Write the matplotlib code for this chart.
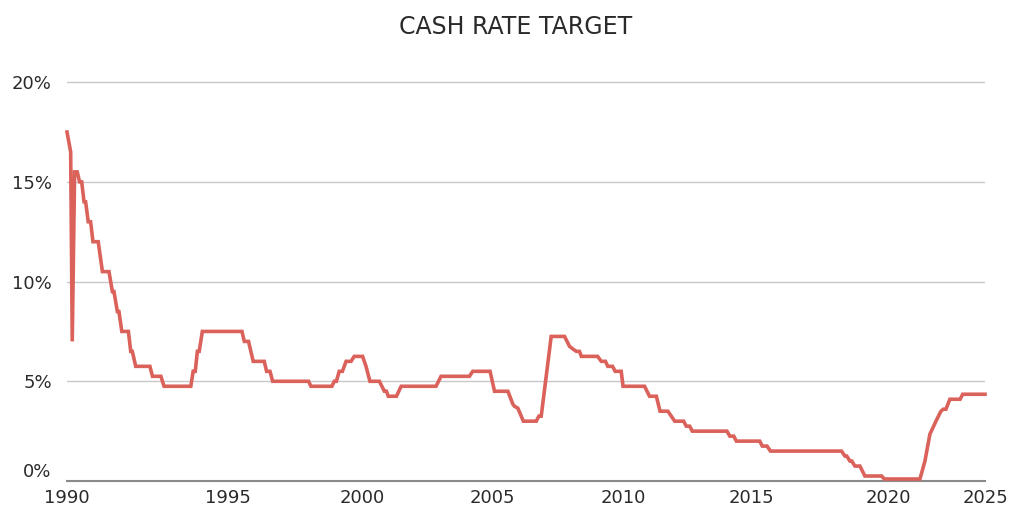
import matplotlib
matplotlib.use("Agg")
import matplotlib.pyplot as plt

# ---------------------------
# Data (decimal year, cash rate %)
# ---------------------------
years = [
    1990.00, 1990.14, 1990.20, 1990.29, 1990.39, 1990.48, 1990.56, 1990.65,
    1990.71, 1990.81, 1990.90, 1990.99, 1991.19, 1991.35, 1991.60, 1991.73,
    1991.79, 1991.92, 1991.98, 1992.09, 1992.34, 1992.43, 1992.49, 1992.62,
    1993.16, 1993.26, 1993.58, 1993.70, 1994.72, 1994.81, 1994.89, 1994.97,
    1995.04, 1995.16, 1996.67, 1996.76, 1996.92, 1997.10, 1997.52, 1997.61,
    1997.74, 1997.84, 1999.21, 1999.30, 2000.10, 2000.19, 2000.27, 2000.38,
    2000.50, 2000.64, 2000.83, 2000.95, 2001.27, 2001.40, 2001.55, 2001.91,
    2002.10, 2002.18, 2002.25, 2002.56, 2002.74, 2004.07, 2004.26, 2005.34,
    2005.47, 2006.13, 2006.30, 2006.81, 2007.00, 2007.06, 2007.19, 2007.40,
    2007.89, 2007.99, 2008.08, 2008.46, 2008.97, 2009.16, 2009.31, 2009.42,
    2009.54, 2009.61, 2010.23, 2010.37, 2010.53, 2010.62, 2010.80, 2010.90,
    2011.13, 2011.20, 2012.02, 2012.21, 2012.47, 2012.61, 2012.91, 2013.04,
    2013.17, 2013.51, 2013.61, 2013.74, 2013.84, 2015.16, 2015.27, 2015.42,
    2015.52, 2016.41, 2016.51, 2016.69, 2016.82, 2019.53, 2019.66, 2019.73,
    2019.85, 2019.92, 2020.04, 2020.23, 2020.42, 2021.06, 2021.16, 2022.52,
    2022.71, 2022.90, 2023.13, 2023.32, 2023.41, 2023.51, 2023.66, 2024.05,
    2024.15, 2025.00,
]
rates = [
    17.5, 16.5, 7.0, 15.5, 15.5, 15.0, 15.0, 14.0,
    14.0, 13.0, 13.0, 12.0, 12.0, 10.5, 10.5, 9.5,
    9.5, 8.5, 8.5, 7.5, 7.5, 6.5, 6.5, 5.75,
    5.75, 5.25, 5.25, 4.75, 4.75, 5.5, 5.5, 6.5,
    6.5, 7.5, 7.5, 7.0, 7.0, 6.0, 6.0, 5.5,
    5.5, 5.0, 5.0, 4.75, 4.75, 5.0, 5.0, 5.5,
    5.5, 6.0, 6.0, 6.25, 6.25, 5.75, 5.0, 5.0,
    4.5, 4.5, 4.25, 4.25, 4.75, 4.75, 5.25, 5.25,
    5.5, 5.5, 4.5, 4.5, 3.85, 3.75, 3.65, 3.0,
    3.0, 3.25, 3.25, 7.25, 7.25, 6.75, 6.6, 6.5,
    6.5, 6.25, 6.25, 6.0, 6.0, 5.75, 5.75, 5.5,
    5.5, 4.75, 4.75, 4.25, 4.25, 3.5, 3.5, 3.25,
    3.0, 3.0, 2.75, 2.75, 2.5, 2.5, 2.25, 2.25,
    2.0, 2.0, 1.75, 1.75, 1.5, 1.5, 1.25, 1.25,
    1.0, 1.0, 0.75, 0.75, 0.25, 0.25, 0.1, 0.1,
    1.0, 2.35, 3.0, 3.5, 3.6, 3.6, 4.1, 4.1,
    4.35, 4.35,
]

# x tick labels sit at uneven spots in the original chart
xtick_labels = ["1990", "1995", "2000", "2005", "2010", "2015", "2020", "2025"]
xtick_pos = [1990.0, 1996.12, 2001.26, 2006.22, 2011.2, 2016.1, 2021.3, 2025.0]
ytick_vals = [0, 5, 10, 15, 20]

LINE_COLOR = "#db615b"
TEXT_COLOR = "#2a2a2a"

fig = plt.figure(figsize=(10.24, 5.31), dpi=100)
ax = fig.add_axes([67 / 1024, 1 - 481 / 531, 918 / 1024, (481 - 72.2) / 531])

ax.plot(years, rates, color=LINE_COLOR, lw=2.6, solid_joinstyle="miter",
        clip_on=False, zorder=3)

ax.set_xlim(1990, 2025)
ax.set_ylim(0, 20.5)

ax.set_yticks(ytick_vals)
ax.set_yticklabels([f"{v}%" for v in ytick_vals])
ax.set_xticks(xtick_pos)
ax.set_xticklabels(xtick_labels)

ax.grid(axis="y", color="#c8c8c8", lw=1)
ax.set_axisbelow(True)
for side in ["top", "right", "left"]:
    ax.spines[side].set_visible(False)
ax.spines["bottom"].set_color("#8a8a8a")
ax.spines["bottom"].set_linewidth(1.5)

ax.tick_params(axis="both", length=0, labelsize=13, colors=TEXT_COLOR)
ax.tick_params(axis="y", pad=11)
ax.tick_params(axis="x", pad=6)
for lbl in ax.get_yticklabels():
    lbl.set_verticalalignment("center_baseline")
# the 0% label sits just above the axis line
ax.get_yticklabels()[0].set_verticalalignment("bottom")

fig.text(516 / 1024, 1 - 27 / 531, "CASH RATE TARGET", ha="center", va="center",
         fontsize=17, color=TEXT_COLOR)

plt.savefig("out.png", dpi=100)
plt.close()
